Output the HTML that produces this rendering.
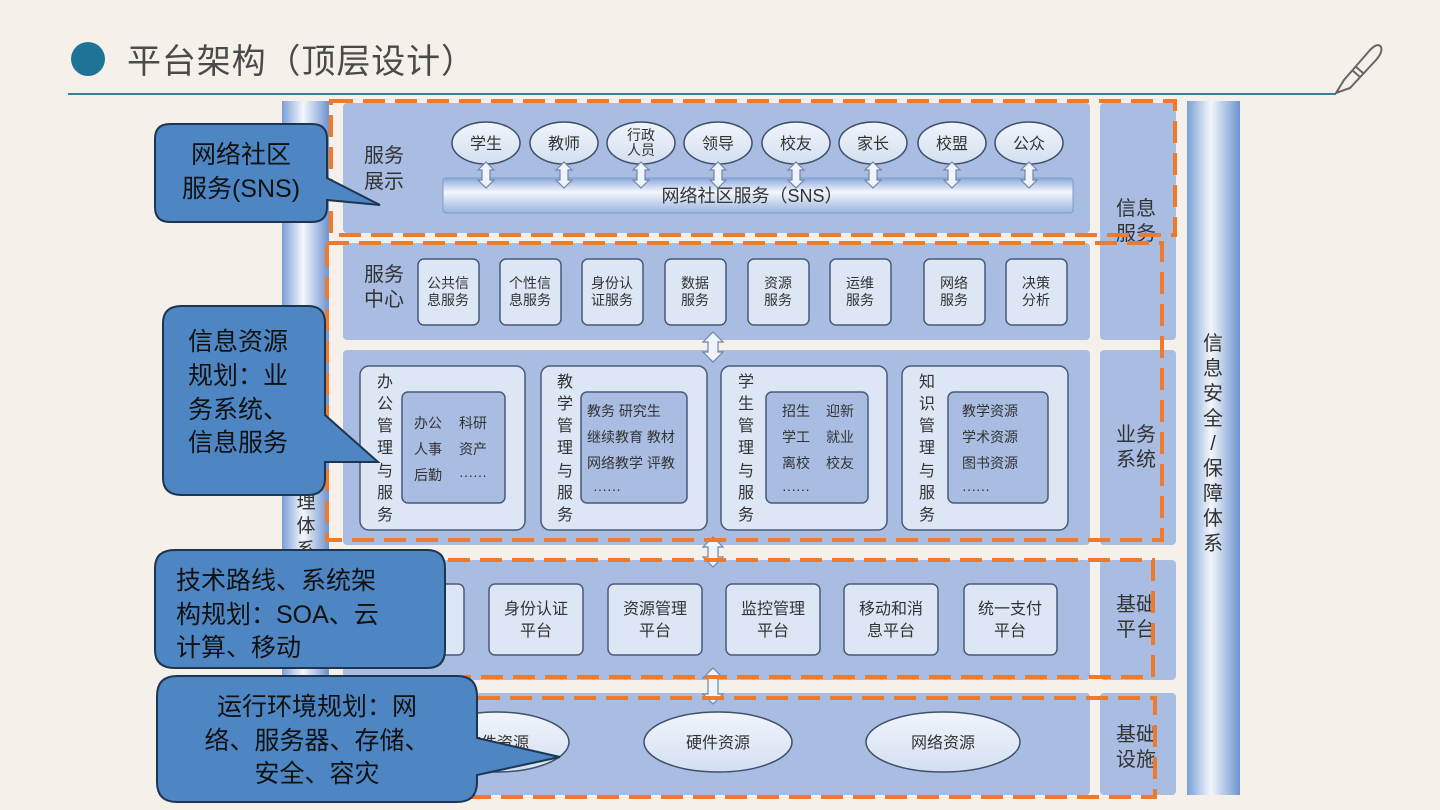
<!DOCTYPE html>
<html><head><meta charset="utf-8"><style>
html,body{margin:0;padding:0;background:#f6f0ea;}
svg{display:block;}
text{font-family:"Liberation Sans","Noto Sans CJK SC",sans-serif;}
</style></head><body>
<svg width="1440" height="810" viewBox="0 0 1440 810" xmlns="http://www.w3.org/2000/svg">
<defs>
<linearGradient id="pil" x1="0" x2="1" y1="0" y2="0">
<stop offset="0" stop-color="#7b9fd6"/><stop offset="0.45" stop-color="#f4f7fc"/><stop offset="1" stop-color="#6d93cf"/></linearGradient>
<linearGradient id="bar" x1="0" x2="0" y1="0" y2="1">
<stop offset="0" stop-color="#8aa8db"/><stop offset="0.4" stop-color="#f4f7fd"/><stop offset="1" stop-color="#98b3df"/></linearGradient>
<linearGradient id="ell" x1="0" x2="0" y1="0" y2="1">
<stop offset="0" stop-color="#f1f5fb"/><stop offset="1" stop-color="#d3dff0"/></linearGradient>
</defs>
<rect width="1440" height="810" fill="#f6f0ea"/>
<!-- title -->
<circle cx="88" cy="59" r="17" fill="#1f7397"/>
<text x="127" y="73" font-size="34" fill="#4a4a4a" textLength="348" lengthAdjust="spacing">平台架构（顶层设计）</text>
<line x1="68" y1="94" x2="1336" y2="94" stroke="#3a7f95" stroke-width="2"/>
<g fill="none" stroke="#666" stroke-width="2">
<path d="M1336 93 L1344 80 L1370 50 Q1378 42 1381 47 Q1383 52 1376 60 L1350 88 Z"/>
<line x1="1352" y1="70" x2="1360" y2="77"/><line x1="1355" y1="66" x2="1363" y2="73"/>
</g>
<!-- pillars -->
<rect x="282" y="101" width="47" height="700" fill="url(#pil)"/>
<text x="306" y="508" font-size="19" fill="#333" text-anchor="middle">理</text>
<text x="306" y="532" font-size="19" fill="#333" text-anchor="middle">体</text>
<text x="306" y="556" font-size="19" fill="#333" text-anchor="middle">系</text>
<rect x="1187" y="101" width="53" height="694" fill="url(#pil)"/>
<g font-size="20" fill="#333" text-anchor="middle">
<text x="1213" y="350">信</text><text x="1213" y="375">息</text><text x="1213" y="400">安</text><text x="1213" y="425">全</text><text x="1213" y="450">/</text><text x="1213" y="475">保</text><text x="1213" y="500">障</text><text x="1213" y="525">体</text><text x="1213" y="550">系</text>
</g>
<!-- panels -->
<g fill="#a9bde2">
<rect x="343" y="103" width="747" height="130" rx="4"/>
<rect x="343" y="243" width="747" height="97" rx="4"/>
<rect x="343" y="350" width="747" height="195" rx="4"/>
<rect x="343" y="560" width="747" height="120" rx="4"/>
<rect x="343" y="693" width="747" height="102" rx="4"/>
<rect x="1100" y="103" width="76" height="237" rx="4"/>
<rect x="1100" y="350" width="76" height="195" rx="4"/>
<rect x="1100" y="560" width="76" height="120" rx="4"/>
<rect x="1100" y="693" width="76" height="102" rx="4"/>
</g>
<g font-size="20" fill="#333">
<text x="1116" y="215">信息</text><text x="1116" y="240">服务</text>
<text x="1116" y="441">业务</text><text x="1116" y="466">系统</text>
<text x="1116" y="611">基础</text><text x="1116" y="636">平台</text>
<text x="1116" y="741">基础</text><text x="1116" y="766">设施</text>
<text x="364" y="162">服务</text><text x="364" y="188">展示</text>
<text x="364" y="281">服务</text><text x="364" y="306">中心</text>
</g>
<!-- row1 -->
<rect x="443" y="178" width="630" height="35" rx="3" fill="url(#bar)" stroke="#7f9acb"/>
<text x="752" y="202" font-size="18" fill="#333" text-anchor="middle">网络社区服务（SNS）</text>
<g fill="url(#ell)" stroke="#3f4f6c" stroke-width="1.5">
<ellipse cx="486" cy="143" rx="34" ry="21"/><ellipse cx="564" cy="143" rx="34" ry="21"/><ellipse cx="641" cy="143" rx="34" ry="21"/><ellipse cx="718" cy="143" rx="34" ry="21"/><ellipse cx="796" cy="143" rx="34" ry="21"/><ellipse cx="873" cy="143" rx="34" ry="21"/><ellipse cx="952" cy="143" rx="34" ry="21"/><ellipse cx="1029" cy="143" rx="34" ry="21"/>
</g>
<g font-size="16" fill="#333" text-anchor="middle">
<text x="486" y="149">学生</text><text x="564" y="149">教师</text>
<text x="641" y="140" font-size="14">行政</text><text x="641" y="155" font-size="14">人员</text>
<text x="718" y="149">领导</text><text x="796" y="149">校友</text><text x="873" y="149">家长</text><text x="952" y="149">校盟</text><text x="1029" y="149">公众</text>
</g>
<g fill="#f0f4fa" stroke="#6f86a8" stroke-width="1.2">
<path d="M486 162 l8 8 h-4 v10 h4 l-8 8 l-8 -8 h4 v-10 h-4 z"/>
<path d="M564 162 l8 8 h-4 v10 h4 l-8 8 l-8 -8 h4 v-10 h-4 z"/>
<path d="M641 162 l8 8 h-4 v10 h4 l-8 8 l-8 -8 h4 v-10 h-4 z"/>
<path d="M718 162 l8 8 h-4 v10 h4 l-8 8 l-8 -8 h4 v-10 h-4 z"/>
<path d="M796 162 l8 8 h-4 v10 h4 l-8 8 l-8 -8 h4 v-10 h-4 z"/>
<path d="M873 162 l8 8 h-4 v10 h4 l-8 8 l-8 -8 h4 v-10 h-4 z"/>
<path d="M952 162 l8 8 h-4 v10 h4 l-8 8 l-8 -8 h4 v-10 h-4 z"/>
<path d="M1029 162 l8 8 h-4 v10 h4 l-8 8 l-8 -8 h4 v-10 h-4 z"/>
<path d="M713 332 l10 10 h-5 v10 h5 l-10 10 l-10 -10 h5 v-10 h-5 z"/>
<path d="M713 537 l10 10 h-5 v10 h5 l-10 10 l-10 -10 h5 v-10 h-5 z"/>
<path d="M713 668 l10 10 h-5 v16 h5 l-10 10 l-10 -10 h5 v-16 h-5 z"/>
</g>
<!-- row2 -->
<g fill="#dde6f4" stroke="#4a5a78" stroke-width="1.5">
<rect x="418" y="259" width="61" height="66" rx="6"/><rect x="500" y="259" width="61" height="66" rx="6"/><rect x="582" y="259" width="61" height="66" rx="6"/><rect x="665" y="259" width="61" height="66" rx="6"/><rect x="748" y="259" width="61" height="66" rx="6"/><rect x="830" y="259" width="61" height="66" rx="6"/><rect x="924" y="259" width="61" height="66" rx="6"/><rect x="1006" y="259" width="61" height="66" rx="6"/>
</g>
<g font-size="14" fill="#333" text-anchor="middle">
<text x="448" y="288">公共信</text><text x="448" y="305">息服务</text>
<text x="530" y="288">个性信</text><text x="530" y="305">息服务</text>
<text x="612" y="288">身份认</text><text x="612" y="305">证服务</text>
<text x="695" y="288">数据</text><text x="695" y="305">服务</text>
<text x="778" y="288">资源</text><text x="778" y="305">服务</text>
<text x="860" y="288">运维</text><text x="860" y="305">服务</text>
<text x="954" y="288">网络</text><text x="954" y="305">服务</text>
<text x="1036" y="288">决策</text><text x="1036" y="305">分析</text>
</g>
<!-- row3 -->
<g fill="#dde6f4" stroke="#4a5a78" stroke-width="1.5">
<rect x="360" y="366" width="165" height="164" rx="9"/><rect x="541" y="366" width="166" height="164" rx="9"/><rect x="721" y="366" width="166" height="164" rx="9"/><rect x="902" y="366" width="166" height="164" rx="9"/>
</g>
<g fill="#a9bde2" stroke="#4a5a78" stroke-width="1.5">
<rect x="402" y="392" width="103" height="111" rx="6"/><rect x="581" y="392" width="106" height="111" rx="6"/><rect x="766" y="392" width="102" height="111" rx="6"/><rect x="948" y="392" width="100" height="111" rx="6"/>
</g>
<g font-size="16" fill="#333" text-anchor="middle">
<text x="385" y="387">办</text><text x="385" y="409">公</text><text x="385" y="431">管</text><text x="385" y="453">理</text><text x="385" y="476">与</text><text x="385" y="498">服</text><text x="385" y="520">务</text>
<text x="565" y="387">教</text><text x="565" y="409">学</text><text x="565" y="431">管</text><text x="565" y="453">理</text><text x="565" y="476">与</text><text x="565" y="498">服</text><text x="565" y="520">务</text>
<text x="746" y="387">学</text><text x="746" y="409">生</text><text x="746" y="431">管</text><text x="746" y="453">理</text><text x="746" y="476">与</text><text x="746" y="498">服</text><text x="746" y="520">务</text>
<text x="927" y="387">知</text><text x="927" y="409">识</text><text x="927" y="431">管</text><text x="927" y="453">理</text><text x="927" y="476">与</text><text x="927" y="498">服</text><text x="927" y="520">务</text>
</g>
<g font-size="14" fill="#333">
<text x="414" y="428">办公</text><text x="459" y="428">科研</text>
<text x="414" y="454">人事</text><text x="459" y="454">资产</text>
<text x="414" y="480">后勤</text><text x="459" y="480">······</text>
<text x="587" y="416">教务 研究生</text>
<text x="587" y="442">继续教育 教材</text>
<text x="587" y="468">网络教学 评教</text>
<text x="593" y="494">······</text>
<text x="782" y="416">招生</text><text x="826" y="416">迎新</text>
<text x="782" y="442">学工</text><text x="826" y="442">就业</text>
<text x="782" y="468">离校</text><text x="826" y="468">校友</text>
<text x="782" y="494">······</text>
<text x="962" y="416">教学资源</text><text x="962" y="442">学术资源</text><text x="962" y="468">图书资源</text><text x="962" y="494">······</text>
</g>
<!-- row4 -->
<g fill="#dde6f4" stroke="#4a5a78" stroke-width="1.5">
<rect x="370" y="584" width="94" height="71" rx="6"/><rect x="489" y="584" width="94" height="71" rx="6"/><rect x="608" y="584" width="94" height="71" rx="6"/><rect x="726" y="584" width="94" height="71" rx="6"/><rect x="844" y="584" width="94" height="71" rx="6"/><rect x="964" y="584" width="93" height="71" rx="6"/>
</g>
<g font-size="16" fill="#333" text-anchor="middle">
<text x="437" y="614">心</text>
<text x="536" y="614">身份认证</text><text x="536" y="636">平台</text>
<text x="655" y="614">资源管理</text><text x="655" y="636">平台</text>
<text x="773" y="614">监控管理</text><text x="773" y="636">平台</text>
<text x="891" y="614">移动和消</text><text x="891" y="636">息平台</text>
<text x="1010" y="614">统一支付</text><text x="1010" y="636">平台</text>
</g>
<!-- row5 -->
<g fill="url(#ell)" stroke="#3f4f6c" stroke-width="1.5">
<ellipse cx="497" cy="742" rx="72" ry="30"/><ellipse cx="718" cy="742" rx="74" ry="30"/><ellipse cx="943" cy="742" rx="77" ry="30"/>
</g>
<g font-size="16" fill="#333" text-anchor="middle">
<text x="497" y="748">软件资源</text><text x="718" y="748">硬件资源</text><text x="943" y="748">网络资源</text>
</g>
<!-- dashed boxes -->
<g fill="none" stroke="#ef7a2c" stroke-width="4" stroke-dasharray="22,10">
<rect x="331" y="101" width="844" height="134"/>
<rect x="327" y="243" width="835" height="297"/>
<rect x="320" y="560" width="833" height="117"/>
<rect x="318" y="698" width="837" height="99"/>
</g>
<!-- callouts -->
<g fill="#4d86c2" stroke="#1d3550" stroke-width="2">
<path d="M170 124 H312 Q327 124 327 139 V178 L380 205 L327 200 V207 Q327 222 312 222 H170 Q155 222 155 207 V139 Q155 124 170 124 Z"/>
<path d="M182 306 H308 Q325 306 325 323 V415 L378 462 L325 462 V478 Q325 495 308 495 H182 Q163 495 163 478 V323 Q163 306 182 306 Z"/>
<path d="M175 550 H427 Q445 550 445 568 V650 Q445 668 427 668 H175 Q155 668 155 650 V568 Q155 550 175 550 Z"/>
<path d="M177 676 H457 Q477 676 477 696 V738 L560 757 L477 775 V782 Q477 802 457 802 H177 Q157 802 157 782 V696 Q157 676 177 676 Z"/>
</g>
<g font-size="25" fill="#111">
<text x="241" y="163" text-anchor="middle">网络社区</text><text x="241" y="197" text-anchor="middle">服务(SNS)</text>
<text x="188" y="350">信息资源</text><text x="188" y="384">规划：业</text><text x="188" y="418">务系统、</text><text x="188" y="451">信息服务</text>
<text x="176" y="589">技术路线、系统架</text><text x="176" y="623">构规划：SOA、云</text><text x="176" y="656">计算、移动</text>
<text x="317" y="715" text-anchor="middle">运行环境规划：网</text><text x="317" y="749" text-anchor="middle">络、服务器、存储、</text><text x="317" y="782" text-anchor="middle">安全、容灾</text>
</g>
</svg>
</body></html>
